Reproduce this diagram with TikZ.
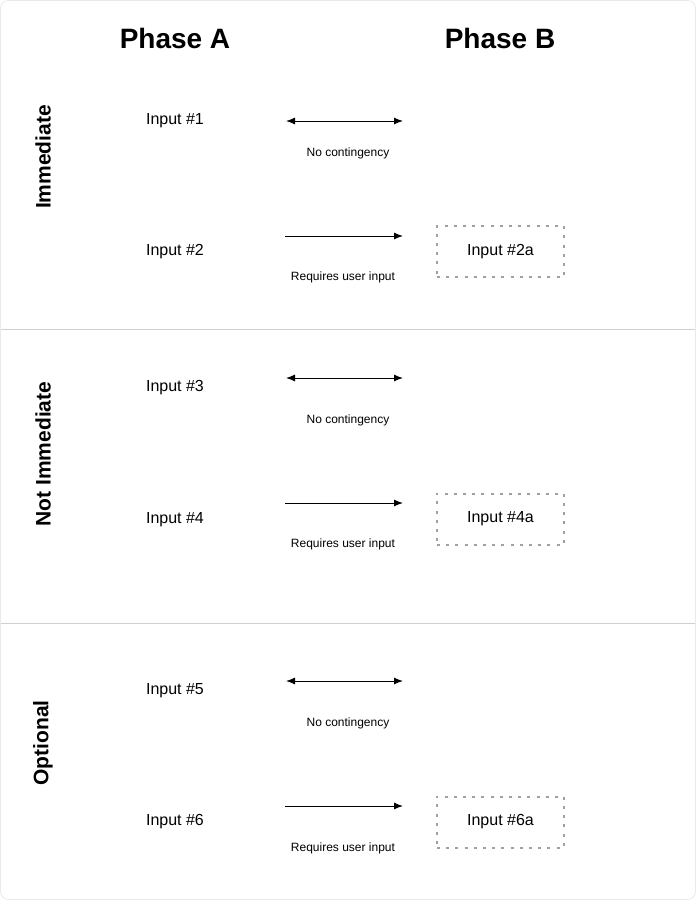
\documentclass[tikz,border=0pt]{standalone}
\usepackage{fontspec}
\setmainfont{Liberation Sans}
\usetikzlibrary{arrows.meta}
\definecolor{sepgray}{HTML}{D0D0D0}
\definecolor{boxgray}{HTML}{A0A0A0}
\begin{document}
\begin{tikzpicture}[x=1pt,y=-1pt,
  phase/.style={font=\fontsize{28}{32}\selectfont\bfseries, inner sep=0pt},
  cat/.style={font=\fontsize{21}{24}\selectfont\bfseries, rotate=90, inner sep=0pt},
  inp/.style={font=\fontsize{16}{19}\selectfont, inner sep=0pt},
  lbl/.style={font=\fontsize{12}{14}\selectfont, inner sep=0pt},
  dbox/.style={draw=boxgray, line width=2pt, dash pattern=on 3pt off 6.2pt, minimum width=127pt, minimum height=51pt, inner sep=0pt, font=\fontsize{16}{19}\selectfont},
  conn/.style={line width=1pt, -{Latex[length=9pt,width=7pt]}},
  conn2/.style={line width=1pt, {Latex[length=9pt,width=7pt]}-{Latex[length=9pt,width=7pt]}},
  sep/.style={draw=sepgray, line width=1pt}
]
\useasboundingbox (0,0) rectangle (696,900);
\draw[draw=sepgray!45, line width=0.8pt, rounded corners=8pt] (0.5,0.5) rectangle (695.5,899.5);

\node[phase] (pa) at (175,38) {Phase A};
\node[phase] (pb) at (500,38) {Phase B};

\node[cat] (c1) at (43,157) {Immediate};
\node[cat] (c2) at (43,454) {Not Immediate};
\node[cat] (c3) at (43,743) {Optional};

\coordinate (s1a) at (1,329); \coordinate (s1b) at (695,329);
\coordinate (s2a) at (1,623); \coordinate (s2b) at (695,623);
\draw[sep] (s1a) -- (s1b);
\draw[sep] (s2a) -- (s2b);

% Row group 1
\node[inp] (i1) at (175,121) {Input \#1};
\coordinate (a1s) at (286,121); \coordinate (a1e) at (403,121);
\draw[conn2] (a1s) -- (a1e);
\node[lbl] (l1) at (348,153) {No contingency};
\node[inp] (i2) at (175,252) {Input \#2};
\coordinate (a2s) at (285,236); \coordinate (a2e) at (403,236);
\draw[conn] (a2s) -- (a2e);
\node[lbl] (l2) at (343,277) {Requires user input};
\node[dbox] (b2) at (500.5,251.5) {\raisebox{-1.5pt}{Input \#2a}};

% Row group 2
\node[inp] (i3) at (175,388) {Input \#3};
\coordinate (a3s) at (286,378); \coordinate (a3e) at (403,378);
\draw[conn2] (a3s) -- (a3e);
\node[lbl] (l3) at (348,420) {No contingency};
\node[inp] (i4) at (175,520) {Input \#4};
\coordinate (a4s) at (285,503); \coordinate (a4e) at (403,503);
\draw[conn] (a4s) -- (a4e);
\node[lbl] (l4) at (343,544) {Requires user input};
\node[dbox] (b4) at (500.5,519) {\raisebox{-1.5pt}{Input \#4a}};

% Row group 3
\node[inp] (i5) at (175,691) {Input \#5};
\coordinate (a5s) at (286,681); \coordinate (a5e) at (403,681);
\draw[conn2] (a5s) -- (a5e);
\node[lbl] (l5) at (348,723) {No contingency};
\node[inp] (i6) at (175,822) {Input \#6};
\coordinate (a6s) at (285,806); \coordinate (a6e) at (403,806);
\draw[conn] (a6s) -- (a6e);
\node[lbl] (l6) at (343,848) {Requires user input};
\node[dbox] (b6) at (500.5,822) {\raisebox{-1.5pt}{Input \#6a}};
\end{tikzpicture}
\end{document}
